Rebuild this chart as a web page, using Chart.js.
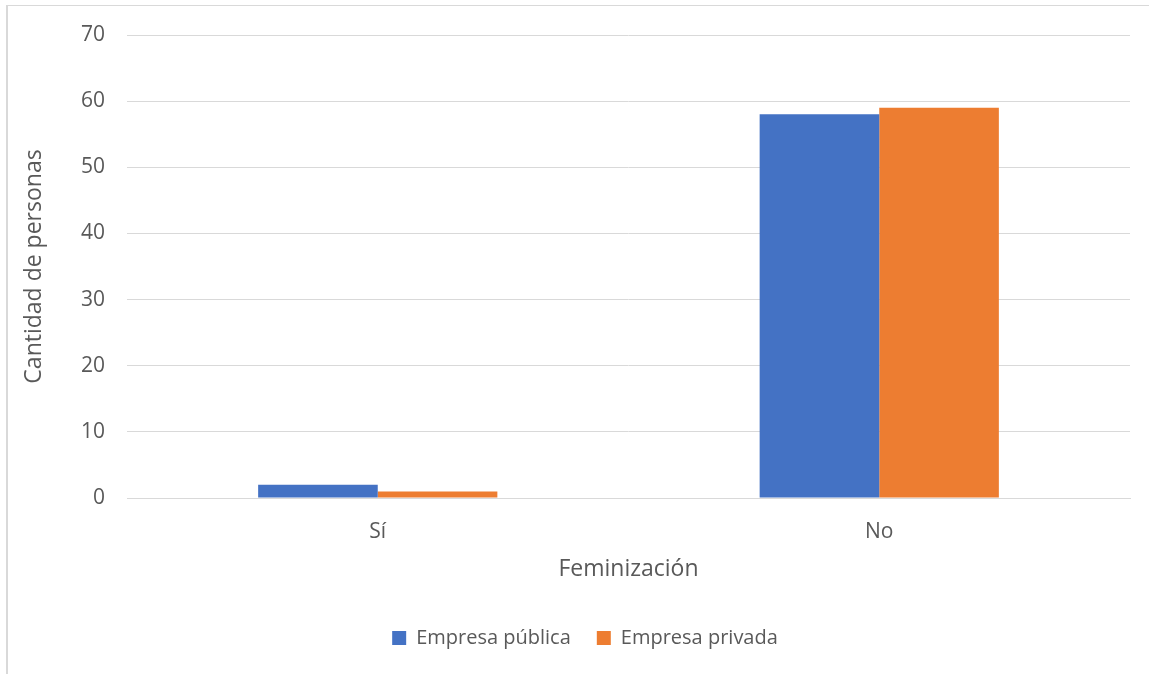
<!DOCTYPE html>
<html>
<head>
<meta charset="utf-8">
<script src="https://cdn.jsdelivr.net/npm/chart.js@4/dist/chart.umd.min.js"></script>
<style>
  html, body { margin: 0; padding: 0; background: #fff; }
  #frame {
    position: absolute; left: 6px; top: 5px; width: 1200px; height: 700px;
    border-left: 2px solid #d9d9d9; border-top: 1px solid #d9d9d9;
  }
  #wrap { position: absolute; left: 0; top: 0; width: 1149px; height: 674px; }
</style>
</head>
<body>
<div id="frame"></div>
<div id="wrap"><canvas id="myChart" width="1149" height="674"></canvas></div>
<script>
var categories = ["Sí", "No"];
var publicValues = [2, 58];
var privateValues = [1, 59];
var yTicks = [0, 10, 20, 30, 40, 50, 60, 70];

var textColor = "#595959";
var fontFamily = "'Open Sans', 'Liberation Sans', sans-serif";

// nudge the legend a bit to the right, like the original
var legendShift = {
  id: 'legendShift',
  afterLayout: function (chart) {
    chart.legend.left += 16;
    chart.legend.right += 16;
  }
};

var ctx = document.getElementById('myChart').getContext('2d');
var myChart = new Chart(ctx, {
  type: 'bar',
  data: {
    labels: categories,
    datasets: [{
      label: 'Empresa pública',
      data: publicValues,
      backgroundColor: '#4472C4',
      categoryPercentage: 0.477,
      barPercentage: 1
    }, {
      label: 'Empresa privada',
      data: privateValues,
      backgroundColor: '#ED7D31',
      categoryPercentage: 0.477,
      barPercentage: 1
    }]
  },
  plugins: [legendShift],
  options: {
    responsive: false,
    animation: false,
    layout: { padding: { left: 8, right: 19, top: 35, bottom: 16 } },
    plugins: {
      tooltip: { enabled: false },
      legend: {
        position: 'bottom',
        labels: {
          color: textColor,
          font: { family: fontFamily, size: 20 },
          boxWidth: 14,
          boxHeight: 14,
          padding: 26
        }
      }
    },
    scales: {
      x: {
        grid: { display: false },
        border: { color: '#d9d9d9', width: 1 },
        ticks: { color: textColor, font: { family: fontFamily, size: 21 }, padding: 13 },
        title: {
          display: true, text: 'Feminización', color: textColor,
          font: { family: fontFamily, size: 23 }, padding: { top: 0, bottom: 19 }
        },
        afterFit: function (scale) { scale.height = 104; }
      },
      y: {
        min: 0, max: 70,
        afterBuildTicks: function (scale) {
          scale.ticks = yTicks.map(function (v) { return { value: v }; });
        },
        grid: { color: '#d9d9d9', lineWidth: 1, drawTicks: false },
        border: { display: false },
        ticks: { color: textColor, font: { family: fontFamily, size: 21 }, padding: 22 },
        title: {
          display: true, text: 'Cantidad de personas', color: textColor,
          font: { family: fontFamily, size: 23 }, padding: { top: 13, bottom: 0 }
        },
        afterFit: function (scale) { scale.width = 119; }
      }
    }
  }
});
</script>
</body>
</html>
